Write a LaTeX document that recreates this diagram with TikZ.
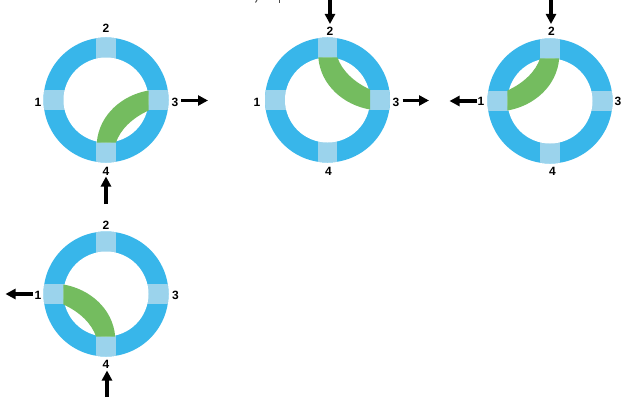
\documentclass[tikz,border=0pt]{standalone}
\usepackage{fontspec}
\setmainfont{Liberation Sans}
\usetikzlibrary{arrows.meta}
\definecolor{ringblue}{HTML}{38B6EA}
\definecolor{portblue}{HTML}{9BD3EC}
\definecolor{bandgreen}{HTML}{74BC5F}
\tikzset{
  x=1pt,y=-1pt,
  portlabel/.style={font=\bfseries\fontsize{12}{12}\selectfont,text=black,inner sep=0pt},
  flowarrow/.style={line width=3.6pt,black,-{Triangle[length=10pt,width=10pt]},shorten <=0pt,shorten >=0pt},
  crumb/.style={line width=1pt,black!70}
}
% name, cx, cy, sx, sy
\newcommand{\junction}[5]{%
  \begin{scope}[shift={(#2,#3)}]
    \fill[ringblue] (0,0) circle[radius=62.5];
    \begin{scope}
      \clip (0,0) circle[radius=62.5];
      \fill[portblue] (-9.7,-64) rectangle (9.7,64);
      \fill[portblue] (-64,-9.7) rectangle (64,9.7);
    \end{scope}
    \fill[white] (0,0) circle[radius=42.5];
    \begin{scope}[xscale=#4,yscale=#5]
      \fill[bandgreen] (-9.2,42.6) .. controls (-7,15) and (16,-5) .. (42.6,-9.5)
        -- (42.6,10.5) .. controls (26,18) and (14,30) .. (10,42.6) -- cycle;
    \end{scope}
    \coordinate (#1c) at (0,0);
  \end{scope}}
\begin{document}
\begin{tikzpicture}
\useasboundingbox (0,0) rectangle (644,404);
\fill[white] (0,0) rectangle (644,404);
\junction{a}{106}{100}{1}{1}
\junction{b}{327.5}{100}{1}{-1}
\junction{c}{550}{101}{-1}{-1}
\junction{d}{106}{294}{-1}{1}
% labels
\node[portlabel] (a1) at (38,102) {1};
\node[portlabel] (a2) at (106,28) {2};
\node[portlabel] (a3) at (175,102) {3};
\node[portlabel] (a4) at (106,171) {4};
\node[portlabel] (b1) at (257,102) {1};
\node[portlabel] (b2) at (330,31) {2};
\node[portlabel] (b3) at (396,102) {3};
\node[portlabel] (b4) at (328.5,171) {4};
\node[portlabel] (c1) at (481,101.5) {1};
\node[portlabel] (c2) at (551.5,31.5) {2};
\node[portlabel] (c3) at (618,101.5) {3};
\node[portlabel] (c4) at (552.5,171) {4};
\node[portlabel] (d1) at (38,295) {1};
\node[portlabel] (d2) at (106,225) {2};
\node[portlabel] (d3) at (175.5,295) {3};
\node[portlabel] (d4) at (106,364) {4};
% arrow ends
\coordinate (a3s) at (181,100.5); \coordinate (a3e) at (208,100.5);
\coordinate (a4s) at (106,204); \coordinate (a4e) at (106,176.5);
\coordinate (b2s) at (330,0); \coordinate (b2e) at (330,24);
\coordinate (b3s) at (402.5,100.5); \coordinate (b3e) at (429,100.5);
\coordinate (c2s) at (551,0); \coordinate (c2e) at (551,24);
\coordinate (c1s) at (477,101); \coordinate (c1e) at (449.5,101);
\coordinate (d1s) at (33,294); \coordinate (d1e) at (5.5,294);
\coordinate (d4s) at (107,397); \coordinate (d4e) at (107,370.5);
\foreach \p in {a3,a4,b2,b3,c2,c1,d1,d4}{
  \draw[flowarrow] (\p s) -- (\p e);
}
% cut-off descenders at the top edge
\coordinate (m1s) at (257,0); \coordinate (m1e) at (255.5,2.5);
\coordinate (m2s) at (279.5,0); \coordinate (m2e) at (279.5,3);
\draw[crumb] (m1s) -- (m1e);
\draw[crumb] (m2s) -- (m2e);
\end{tikzpicture}
\end{document}
